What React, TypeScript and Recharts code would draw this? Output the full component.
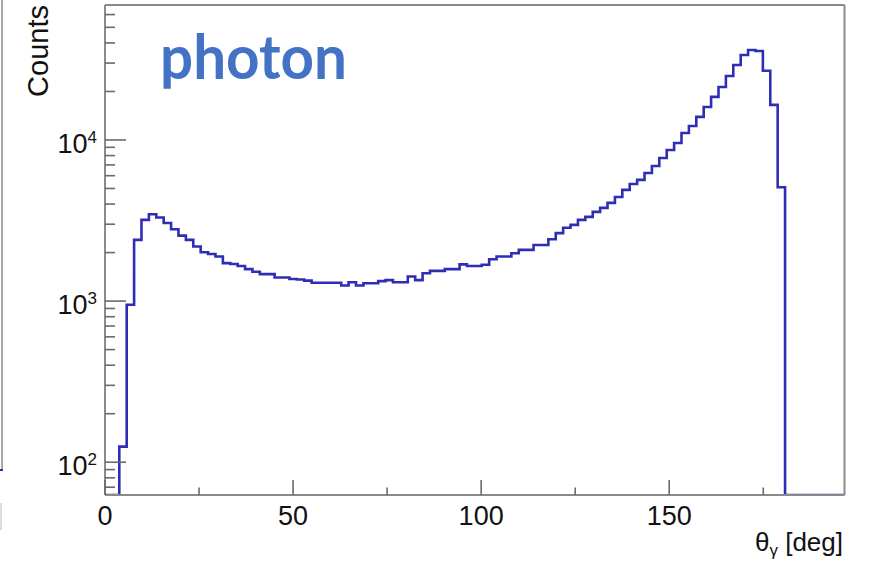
import React from 'react';
import { LineChart, Line, XAxis, YAxis, ReferenceLine } from 'recharts';

// Canvas and frame geometry (pixels)
const W = 869;
const H = 563;
const PLOT_LEFT = 105;
const PLOT_TOP = 5;
const PLOT_RIGHT = 844.5;
const PLOT_BOTTOM = 495;

// Axis ranges
const X_MAX = 196.6;
const Y_MIN = 62.6;
const Y_MAX = 68800;

// Histogram binning: 90 bins of equal width
const BIN_LO = 3.8;
const BIN_HI = 180.8;

// Photon polar angle distribution, counts per bin
const counts = [
  125, 950, 2400, 3190, 3460, 3300, 3050, 2790, 2550, 2400,
  2180, 2010, 1960, 1890, 1720, 1700, 1650, 1580, 1520, 1470,
  1470, 1400, 1400, 1370, 1360, 1340, 1300, 1300, 1300, 1300,
  1250, 1310, 1250, 1290, 1290, 1330, 1350, 1310, 1310, 1420,
  1350, 1490, 1540, 1540, 1580, 1580, 1690, 1650, 1650, 1680,
  1820, 1890, 1890, 1980, 2080, 2080, 2230, 2230, 2420, 2640,
  2850, 2970, 3190, 3330, 3580, 3790, 4070, 4430, 4900, 5330,
  5650, 6240, 6900, 7730, 8670, 9580, 11050, 12210, 13900, 16030,
  18500, 21300, 24950, 29200, 33650, 36150, 35630, 26900, 16500, 5090,
];

// Axis ticks
const xTicks = [0, 25, 50, 75, 100, 125, 150, 175];
const xLabelTicks = [0, 50, 100, 150];
const yTicks = [
  70, 80, 90,
  100, 200, 300, 400, 500, 600, 700, 800, 900,
  1000, 2000, 3000, 4000, 5000, 6000, 7000, 8000, 9000,
  10000, 20000, 30000, 40000, 50000, 60000,
];
const yDecades = [100, 1000, 10000];
const yExponents = ['2', '3', '4'];

const LINE_BLUE = '#2e2eb4';
const FRAME = '#8a8a8a';
const TICK = '#6a6a6a';
const FONT = '"Liberation Sans", Arial, Helvetica, sans-serif';

// Step outline: empty bins sit on the frame floor, like a log-scale ROOT histogram
const binWidth = (BIN_HI - BIN_LO) / counts.length;
const steps = [
  { x: 0, y: Y_MIN },
  ...counts.map((c, k) => ({ x: BIN_LO + k * binWidth, y: Math.max(c, Y_MIN) })),
  { x: BIN_HI, y: Y_MIN },
  { x: X_MAX, y: Y_MIN },
];

const YTick = (props: any) => {
  const { y, payload } = props;
  const v = payload.value;
  const idx = yDecades.indexOf(v);
  const major = idx >= 0;
  const len = major ? 21 : 10;
  return (
    <g>
      <line x1={PLOT_LEFT} x2={PLOT_LEFT + len} y1={y} y2={y} stroke={TICK} strokeWidth={1.6} />
      {major && (
        <text x={PLOT_LEFT - 8} y={y + 13} textAnchor="end" fontFamily={FONT} fontSize={27} fill="#111">
          10
          <tspan dy={-10} fontSize={17}>{yExponents[idx]}</tspan>
        </text>
      )}
    </g>
  );
};

const XTick = (props: any) => {
  const { x, payload } = props;
  const v = payload.value;
  const major = xLabelTicks.includes(v);
  const len = major ? 15 : 7.5;
  return (
    <g>
      <line x1={x} x2={x} y1={PLOT_BOTTOM} y2={PLOT_BOTTOM - len} stroke={TICK} strokeWidth={1.6} />
      {major && (
        <text x={x} y={PLOT_BOTTOM + 30} textAnchor="middle" fontFamily={FONT} fontSize={27} fill="#111">
          {v}
        </text>
      )}
    </g>
  );
};

export default function App() {
  return (
    <div style={{ position: 'absolute', left: 0, top: 0, width: W, height: H, background: '#fff' }}>
      <LineChart
        width={W}
        height={H}
        data={steps}
        margin={{ top: PLOT_TOP, right: W - PLOT_RIGHT, bottom: 28, left: PLOT_LEFT - 60 }}
      >
        <XAxis
          dataKey="x"
          type="number"
          domain={[0, X_MAX]}
          allowDataOverflow
          ticks={xTicks}
          interval={0}
          tick={(p: any) => <XTick {...p} />}
          tickLine={false}
          axisLine={{ stroke: FRAME, strokeWidth: 2 }}
          height={H - PLOT_BOTTOM - 28}
        />
        <YAxis
          type="number"
          scale="log"
          domain={[Y_MIN, Y_MAX]}
          allowDataOverflow
          ticks={yTicks}
          interval={0}
          tick={(p: any) => <YTick {...p} />}
          tickLine={false}
          axisLine={{ stroke: FRAME, strokeWidth: 2 }}
          width={60}
        />
        <ReferenceLine y={Y_MAX} stroke={FRAME} strokeWidth={2} />
        <ReferenceLine x={X_MAX} stroke={FRAME} strokeWidth={2} />
        <Line
          type="stepAfter"
          dataKey="y"
          stroke={LINE_BLUE}
          strokeWidth={2.6}
          dot={false}
          isAnimationActive={false}
        />
      </LineChart>
      <svg
        width={W}
        height={H}
        style={{ position: 'absolute', left: 0, top: 0, pointerEvents: 'none' }}
      >
        {/* edge of the neighbouring panel */}
        <line x1={2} x2={2} y1={0} y2={470} stroke="#a8a8a8" strokeWidth={2} />
        <line x1={0} x2={3} y1={470} y2={470} stroke={LINE_BLUE} strokeWidth={2} />
        <line x1={1} x2={1} y1={503} y2={530} stroke="#cfcfcf" strokeWidth={1.5} />
        {/* axis titles */}
        <text
          transform="translate(48,5) rotate(-90)"
          textAnchor="end"
          fontFamily={FONT}
          fontSize={29}
          fill="#111"
        >
          Counts
        </text>
        <text x={843} y={551} textAnchor="end" fontFamily={FONT} fontSize={26} fill="#111">
          θ<tspan dy={5} fontSize={17}>γ</tspan>
          <tspan dy={-5}> [deg]</tspan>
        </text>
        <text
          x={160}
          y={79}
          fontFamily='Lato, "Open Sans", sans-serif'
          fontWeight={700}
          fontSize={62}
          fill="#4472c4"
          textLength={187}
          lengthAdjust="spacingAndGlyphs"
        >
          photon
        </text>
      </svg>
    </div>
  );
}
